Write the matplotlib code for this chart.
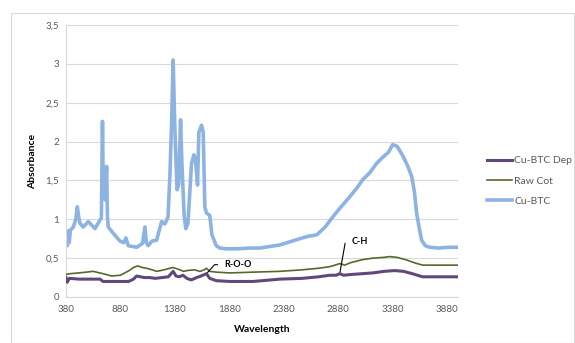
import matplotlib
matplotlib.use("Agg")
import matplotlib.pyplot as plt
from matplotlib.patches import Rectangle
from matplotlib.ticker import FuncFormatter

plt.rcParams['font.family'] = ['Lato', 'DejaVu Sans']

# Cu-BTC spectrum
cubtc_x = [380, 392, 400, 410, 420, 447, 470, 484, 500, 508, 539, 585, 620, 646, 692,
           705, 715, 722, 730, 740, 753, 760, 768, 814, 875, 910, 930, 952, 1029, 1083,
           1105, 1118, 1135, 1170, 1212, 1258, 1288, 1317, 1335, 1350, 1364, 1378, 1390,
           1400, 1415, 1432, 1445, 1465, 1480, 1500, 1533, 1555, 1570, 1588, 1600, 1610,
           1625, 1640, 1655, 1670, 1700, 1720, 1760, 1793, 1850, 1950, 2068, 2160, 2252,
           2343, 2435, 2527, 2600, 2683, 2760, 2830, 2900, 2986, 3050, 3105, 3170, 3233,
           3290, 3340, 3380, 3420, 3472, 3520, 3555, 3580, 3600, 3625, 3646, 3680, 3720,
           3800, 3900, 3980]
cubtc_y = [0.82, 0.66, 0.85, 0.70, 0.86, 0.90, 1.00, 1.16, 1.00, 0.95, 0.90, 0.97, 0.92,
           0.88, 0.99, 1.02, 2.26, 1.40, 1.62, 1.25, 1.68, 1.05, 0.90, 0.82, 0.72, 0.70,
           0.76, 0.66, 0.64, 0.69, 0.90, 0.70, 0.66, 0.72, 0.73, 0.97, 0.94, 1.03, 1.60,
           2.24, 3.05, 2.25, 1.75, 1.38, 1.45, 2.28, 1.70, 1.05, 0.88, 0.95, 1.72, 1.83,
           1.75, 1.44, 2.12, 2.15, 2.21, 2.12, 1.16, 1.08, 1.05, 0.80, 0.66, 0.63, 0.62,
           0.62, 0.63, 0.63, 0.65, 0.67, 0.71, 0.75, 0.78, 0.80, 0.90, 1.03, 1.15, 1.29,
           1.40, 1.51, 1.60, 1.72, 1.80, 1.86, 1.96, 1.94, 1.82, 1.68, 1.55, 1.35, 1.08,
           0.88, 0.73, 0.66, 0.64, 0.63, 0.64, 0.64]

# Raw cotton spectrum
raw_x = [380, 417, 500, 630, 720, 800, 880, 960, 1000, 1040, 1080, 1120, 1170, 1214,
         1280, 1362, 1426, 1460, 1490, 1560, 1610, 1650, 1670, 1700, 1760, 1885, 2100,
         2343, 2550, 2700, 2802, 2850, 2894, 2940, 2990, 3100, 3200, 3300, 3352, 3420,
         3500, 3580, 3655, 3800, 3980]
raw_y = [0.29, 0.30, 0.31, 0.33, 0.30, 0.27, 0.28, 0.34, 0.38, 0.40, 0.38, 0.37, 0.35,
         0.33, 0.35, 0.38, 0.35, 0.33, 0.34, 0.35, 0.33, 0.35, 0.37, 0.33, 0.32, 0.31,
         0.32, 0.33, 0.35, 0.37, 0.39, 0.41, 0.43, 0.41, 0.44, 0.48, 0.50, 0.51, 0.52,
         0.51, 0.48, 0.44, 0.41, 0.41, 0.41]

# Cu-BTC deposited on cotton
dep_x = [380, 392, 410, 500, 600, 692, 720, 800, 880, 955, 1000, 1028, 1100, 1150, 1200,
         1260, 1320, 1364, 1390, 1420, 1454, 1490, 1530, 1580, 1620, 1670, 1700, 1760,
         1885, 2100, 2343, 2550, 2700, 2802, 2860, 2894, 2930, 3000, 3100, 3200, 3300,
         3400, 3480, 3560, 3655, 3800, 3980]
dep_y = [0.25, 0.19, 0.24, 0.23, 0.23, 0.23, 0.20, 0.20, 0.20, 0.20, 0.23, 0.27, 0.25,
         0.25, 0.24, 0.25, 0.26, 0.33, 0.27, 0.26, 0.28, 0.24, 0.22, 0.25, 0.27, 0.30,
         0.24, 0.21, 0.20, 0.20, 0.23, 0.24, 0.26, 0.28, 0.28, 0.30, 0.28, 0.29, 0.30,
         0.31, 0.33, 0.34, 0.33, 0.30, 0.26, 0.26, 0.26]

x_ticks = [380, 880, 1380, 1880, 2380, 2880, 3380, 3880]
y_ticks = [0, 0.5, 1, 1.5, 2, 2.5, 3, 3.5]

# annotated bands: (label, wavelength, absorbance of the Cu-BTC Dep mark)
roo_label, roo_x, roo_y = "R-O-O", 1670, 0.30
ch_label, ch_x, ch_y = "C-H", 2894, 0.30

grey = "#595959"
fig = plt.figure(figsize=(5.75, 3.43), dpi=100)
fig.patch.set_facecolor("white")
fig.add_artist(Rectangle((11 / 575, 0.0), 563 / 575, 1 - 13 / 343, transform=fig.transFigure,
                         fill=False, edgecolor="#D9D9D9", linewidth=0.8))

ax = fig.add_axes([66 / 575, 46 / 343, 392 / 575, 272 / 343])
ax.plot(dep_x, dep_y, color="#60497A", lw=2.2, label="Cu-BTC Dep", zorder=4)
ax.plot(raw_x, raw_y, color="#55692B", lw=1.2, label="Raw Cot", zorder=3)
ax.plot(cubtc_x, cubtc_y, color="#8DB3E2", lw=2.6, label="Cu-BTC", zorder=2)

ax.set_xlim(380, 3980)
ax.set_ylim(0, 3.5)
ax.set_xticks(x_ticks)
ax.set_yticks(y_ticks)
ax.yaxis.set_major_formatter(FuncFormatter(lambda v, p: f"{v:g}".replace(".", ",")))
ax.tick_params(length=0, labelsize=7, colors=grey, pad=6)
ax.tick_params(axis="y", pad=5)
ax.grid(axis="y", color="#D9D9D9", lw=0.8)
ax.set_axisbelow(True)
for s in ("top", "right"):
    ax.spines[s].set_visible(False)
for s in ("left", "bottom"):
    ax.spines[s].set_color("#D9D9D9")
    ax.spines[s].set_linewidth(0.8)

ax.set_xlabel("Wavelength", fontsize=7.5, fontweight="bold", color="black", labelpad=8)
ax.set_ylabel("Absorbance", fontsize=7.5, fontweight="bold", color="black", labelpad=6)

ann = dict(fontsize=6.5, fontweight="bold", color="black", va="center", ha="left",
           textcoords="offset pixels")
ax.annotate(roo_label, xy=(roo_x, roo_y), xytext=(18, 9),
            arrowprops=dict(arrowstyle="-", color="black", lw=0.8, shrinkA=3, shrinkB=0,
                            connectionstyle="angle,angleA=0,angleB=48,rad=0"), **ann)
ax.annotate(ch_label, xy=(ch_x, ch_y), xytext=(12, 32),
            arrowprops=dict(arrowstyle="-", color="black", lw=0.8, shrinkA=3, shrinkB=0,
                            connectionstyle="angle,angleA=0,angleB=80,rad=0"), **ann)

leg = fig.legend(loc="upper left", bbox_to_anchor=(483 / 575, 1 - 152 / 343), frameon=False,
                 fontsize=7.5, handlelength=2.4, handletextpad=0.2, labelspacing=1.05,
                 borderaxespad=0)
for t in leg.get_texts():
    t.set_color(grey)

fig.savefig("out.png", dpi=100)
